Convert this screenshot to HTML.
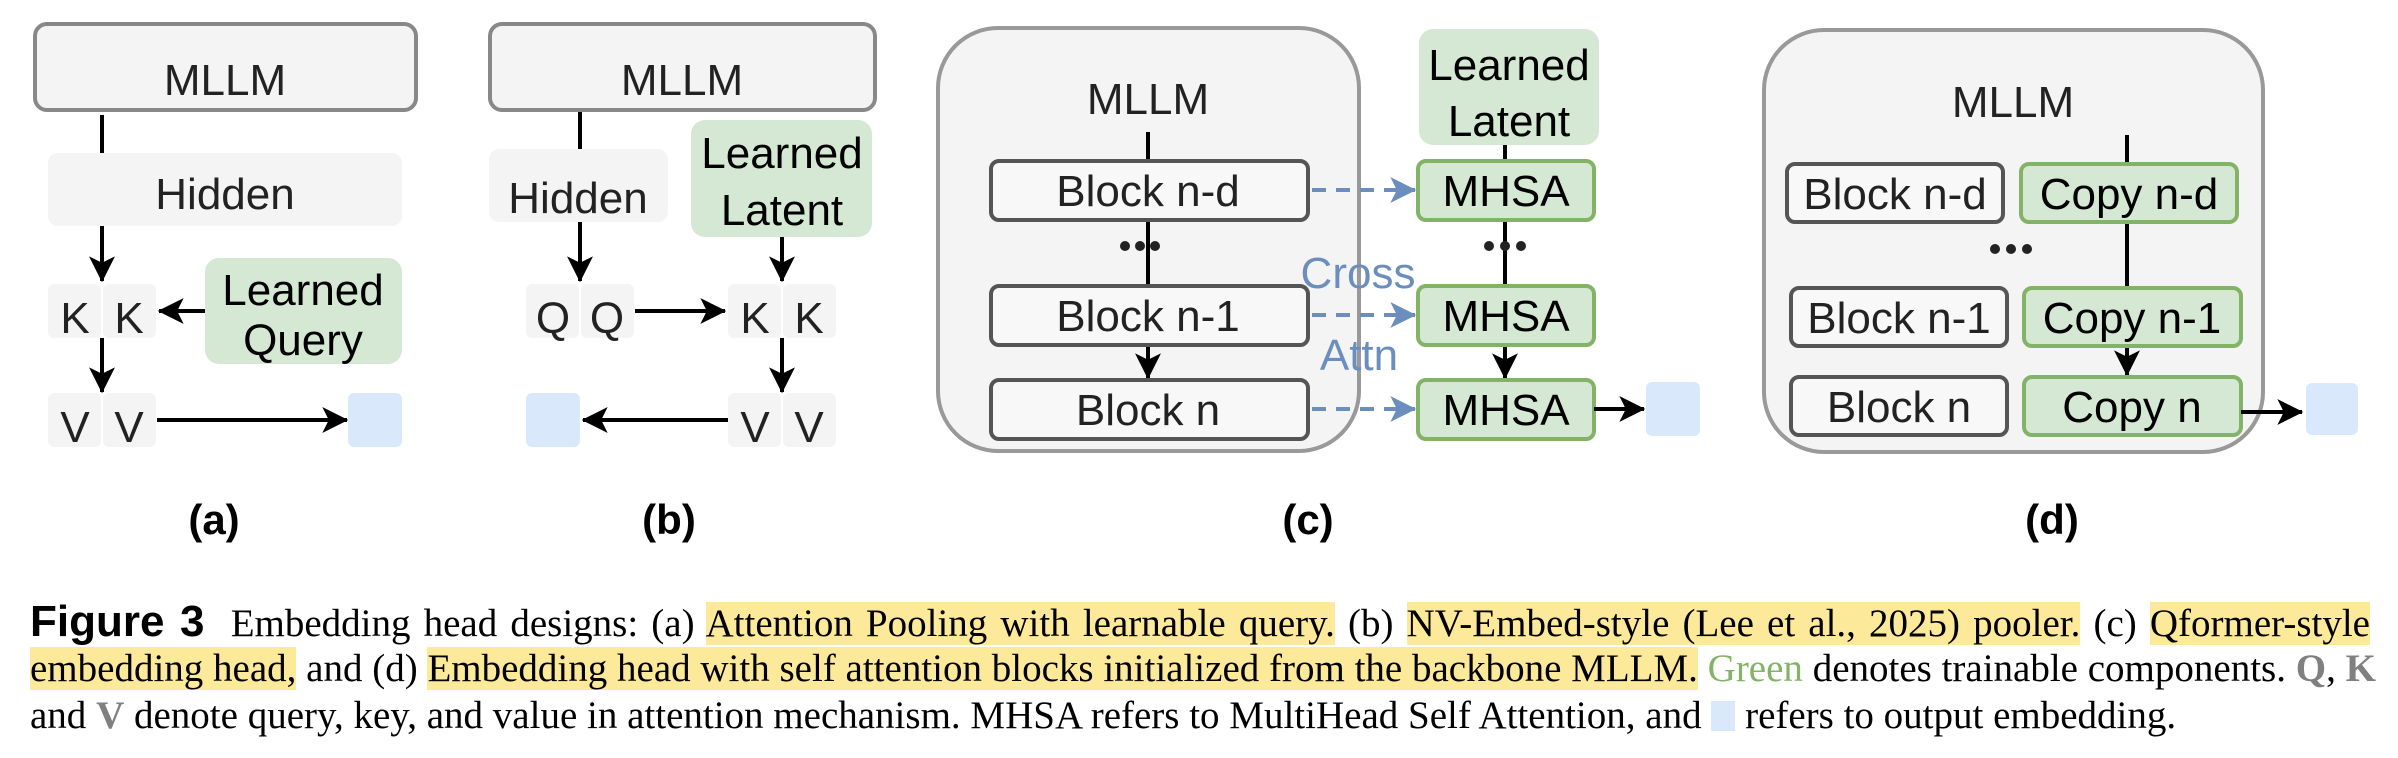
<!DOCTYPE html>
<html><head><meta charset="utf-8"><style>
html,body{margin:0;padding:0;background:#fff;}
body{width:2398px;height:758px;position:relative;overflow:hidden;}
svg{position:absolute;left:0;top:0;}
.cap{position:absolute;left:30px;width:2340px;font-family:"Liberation Serif",serif;font-size:39px;line-height:47px;color:#000;white-space:nowrap;}
.j{text-align:justify;text-align-last:justify;}
.hl{background:#fde99a;}
.g{color:#82b366;}
.gr{color:#808080;font-weight:bold;}
.fig{font-family:"Liberation Sans",sans-serif;font-weight:bold;font-size:44px;}
.sq{display:inline-block;width:24px;height:30px;background:#dae8fc;vertical-align:-3px;}
</style></head><body>
<svg width="2398" height="560" viewBox="0 0 2398 560" xmlns="http://www.w3.org/2000/svg">
<defs>
<marker id="a" viewBox="0 0 20 20" refX="19" refY="10" markerWidth="26" markerHeight="28" markerUnits="userSpaceOnUse" orient="auto"><path d="M0,0 L20,10 L0,20 L5,10 z" fill="#000"/></marker>
<marker id="b" viewBox="0 0 20 20" refX="19" refY="10" markerWidth="26" markerHeight="28" markerUnits="userSpaceOnUse" orient="auto"><path d="M0,0 L20,10 L0,20 L5,10 z" fill="#6c8ebf"/></marker>
</defs>
<g font-family="Liberation Sans, sans-serif" font-size="44" fill="#222" text-anchor="middle">
<!-- (a) -->
<rect x="35" y="24" width="381" height="86" rx="12" fill="#f4f4f4" stroke="#888" stroke-width="4"/>
<text x="225" y="95">MLLM</text>
<line x1="102" y1="115" x2="102" y2="153" stroke="#000" stroke-width="4"/>
<rect x="48" y="153" width="354" height="73" rx="10" fill="#f4f4f4"/>
<text x="225" y="209">Hidden</text>
<line x1="102" y1="226" x2="102" y2="281" stroke="#000" stroke-width="4" marker-end="url(#a)"/>
<rect x="48" y="284" width="53" height="54" rx="6" fill="#f4f4f4"/>
<rect x="103" y="284" width="53" height="54" rx="6" fill="#f4f4f4"/>
<text x="75" y="333">K</text><text x="129" y="333">K</text>
<rect x="205" y="258" width="197" height="106" rx="14" fill="#d5e8d4"/>
<text x="303" y="305" fill="#000">Learned</text><text x="303" y="355" fill="#000">Query</text>
<line x1="205" y1="311" x2="159" y2="311" stroke="#000" stroke-width="4" marker-end="url(#a)"/>
<line x1="102" y1="338" x2="102" y2="392" stroke="#000" stroke-width="4" marker-end="url(#a)"/>
<rect x="48" y="393" width="53" height="54" rx="6" fill="#f4f4f4"/>
<rect x="103" y="393" width="53" height="54" rx="6" fill="#f4f4f4"/>
<text x="75" y="442">V</text><text x="129" y="442">V</text>
<line x1="157" y1="420" x2="347" y2="420" stroke="#000" stroke-width="4" marker-end="url(#a)"/>
<rect x="348" y="393" width="54" height="54" rx="6" fill="#dae8fc"/>
<!-- (b) -->
<rect x="490" y="24" width="385" height="86" rx="12" fill="#f4f4f4" stroke="#888" stroke-width="4"/>
<text x="682" y="95">MLLM</text>
<line x1="580" y1="112" x2="580" y2="149" stroke="#000" stroke-width="4"/>
<rect x="489" y="149" width="179" height="73" rx="10" fill="#f4f4f4"/>
<text x="578" y="213">Hidden</text>
<rect x="691" y="120" width="181" height="117" rx="14" fill="#d5e8d4"/>
<text x="782" y="168" fill="#000">Learned</text><text x="782" y="225" fill="#000">Latent</text>
<line x1="580" y1="222" x2="580" y2="281" stroke="#000" stroke-width="4" marker-end="url(#a)"/>
<rect x="526" y="284" width="53" height="54" rx="6" fill="#f4f4f4"/>
<rect x="581" y="284" width="53" height="54" rx="6" fill="#f4f4f4"/>
<text x="553" y="333">Q</text><text x="607" y="333">Q</text>
<line x1="635" y1="311" x2="725" y2="311" stroke="#000" stroke-width="4" marker-end="url(#a)"/>
<line x1="782" y1="237" x2="782" y2="281" stroke="#000" stroke-width="4" marker-end="url(#a)"/>
<rect x="728" y="284" width="53" height="54" rx="6" fill="#f4f4f4"/>
<rect x="783" y="284" width="53" height="54" rx="6" fill="#f4f4f4"/>
<text x="755" y="333">K</text><text x="809" y="333">K</text>
<line x1="782" y1="338" x2="782" y2="392" stroke="#000" stroke-width="4" marker-end="url(#a)"/>
<rect x="728" y="393" width="53" height="54" rx="6" fill="#f4f4f4"/>
<rect x="783" y="393" width="53" height="54" rx="6" fill="#f4f4f4"/>
<text x="755" y="442">V</text><text x="809" y="442">V</text>
<rect x="526" y="393" width="54" height="54" rx="6" fill="#dae8fc"/>
<line x1="728" y1="420" x2="583" y2="420" stroke="#000" stroke-width="4" marker-end="url(#a)"/>
<!-- (c) -->
<rect x="938" y="28" width="421" height="423" rx="60" fill="#f4f4f4" stroke="#999" stroke-width="4"/>
<text x="1148" y="114">MLLM</text>
<line x1="1148" y1="132" x2="1148" y2="161" stroke="#000" stroke-width="4"/>
<line x1="1148" y1="220" x2="1148" y2="286" stroke="#000" stroke-width="4"/>
<circle cx="1125" cy="246" r="5" fill="#222"/><circle cx="1140" cy="246" r="5" fill="#222"/><circle cx="1155" cy="246" r="5" fill="#222"/>
<line x1="1148" y1="345" x2="1148" y2="378" stroke="#000" stroke-width="4" marker-end="url(#a)"/>
<rect x="991" y="161" width="317" height="59" rx="8" fill="#f8f8f8" stroke="#555" stroke-width="4"/>
<rect x="991" y="286" width="317" height="59" rx="8" fill="#f8f8f8" stroke="#555" stroke-width="4"/>
<rect x="991" y="380" width="317" height="59" rx="8" fill="#f8f8f8" stroke="#555" stroke-width="4"/>
<text x="1148" y="206">Block n-d</text>
<text x="1148" y="331">Block n-1</text>
<text x="1148" y="425">Block n</text>
<rect x="1419" y="29" width="180" height="116" rx="14" fill="#d5e8d4"/>
<text x="1509" y="80" fill="#000">Learned</text><text x="1509" y="136" fill="#000">Latent</text>
<line x1="1505" y1="145" x2="1505" y2="161" stroke="#000" stroke-width="4"/>
<line x1="1505" y1="220" x2="1505" y2="286" stroke="#000" stroke-width="4"/>
<circle cx="1489" cy="246" r="5" fill="#222"/><circle cx="1505" cy="246" r="5" fill="#222"/><circle cx="1521" cy="246" r="5" fill="#222"/>
<line x1="1505" y1="345" x2="1505" y2="378" stroke="#000" stroke-width="4" marker-end="url(#a)"/>
<rect x="1418" y="161" width="176" height="59" rx="8" fill="#d5e8d4" stroke="#82b366" stroke-width="4"/>
<rect x="1418" y="286" width="176" height="59" rx="8" fill="#d5e8d4" stroke="#82b366" stroke-width="4"/>
<rect x="1418" y="380" width="176" height="59" rx="8" fill="#d5e8d4" stroke="#82b366" stroke-width="4"/>
<text x="1506" y="206" fill="#000">MHSA</text>
<text x="1506" y="331" fill="#000">MHSA</text>
<text x="1506" y="425" fill="#000">MHSA</text>
<g stroke="#6c8ebf" stroke-width="4" stroke-dasharray="14 10">
<line x1="1312" y1="190" x2="1415" y2="190" marker-end="url(#b)"/>
<line x1="1312" y1="315" x2="1415" y2="315" marker-end="url(#b)"/>
<line x1="1312" y1="409" x2="1415" y2="409" marker-end="url(#b)"/>
</g>
<text x="1358" y="288" fill="#6c8ebf">Cross</text>
<text x="1359" y="370" fill="#6c8ebf">Attn</text>
<line x1="1594" y1="409" x2="1644" y2="409" stroke="#000" stroke-width="4" marker-end="url(#a)"/>
<rect x="1646" y="382" width="54" height="54" rx="6" fill="#dae8fc"/>
<!-- (d) -->
<rect x="1764" y="30" width="499" height="422" rx="60" fill="#f4f4f4" stroke="#999" stroke-width="4"/>
<text x="2013" y="117">MLLM</text>
<line x1="2127" y1="135" x2="2127" y2="164" stroke="#000" stroke-width="4"/>
<line x1="2127" y1="222" x2="2127" y2="288" stroke="#000" stroke-width="4"/>
<line x1="2127" y1="346" x2="2127" y2="375" stroke="#000" stroke-width="4" marker-end="url(#a)"/>
<circle cx="1995" cy="249" r="5" fill="#222"/><circle cx="2011" cy="249" r="5" fill="#222"/><circle cx="2027" cy="249" r="5" fill="#222"/>
<rect x="1787" y="164" width="216" height="58" rx="8" fill="#f8f8f8" stroke="#555" stroke-width="4"/>
<rect x="1791" y="288" width="216" height="58" rx="8" fill="#f8f8f8" stroke="#555" stroke-width="4"/>
<rect x="1791" y="377" width="216" height="58" rx="8" fill="#f8f8f8" stroke="#555" stroke-width="4"/>
<rect x="2021" y="164" width="216" height="58" rx="8" fill="#d5e8d4" stroke="#82b366" stroke-width="4"/>
<rect x="2024" y="288" width="217" height="58" rx="8" fill="#d5e8d4" stroke="#82b366" stroke-width="4"/>
<rect x="2024" y="377" width="217" height="58" rx="8" fill="#d5e8d4" stroke="#82b366" stroke-width="4"/>
<text x="1895" y="209">Block n-d</text>
<text x="1899" y="333">Block n-1</text>
<text x="1899" y="422">Block n</text>
<text x="2129" y="209" fill="#000">Copy n-d</text>
<text x="2132" y="333" fill="#000">Copy n-1</text>
<text x="2132" y="422" fill="#000">Copy n</text>
<line x1="2241" y1="412" x2="2302" y2="412" stroke="#000" stroke-width="4" marker-end="url(#a)"/>
<rect x="2306" y="383" width="52" height="52" rx="6" fill="#dae8fc"/>
</g>
<g font-family="Liberation Sans, sans-serif" font-size="42" font-weight="bold" fill="#000" text-anchor="middle">
<text x="214" y="534">(a)</text>
<text x="669" y="534">(b)</text>
<text x="1308" y="534">(c)</text>
<text x="2052" y="534">(d)</text>
</g>
</svg>
<div class="cap j" style="top:598px;"><span class="fig">Figure 3</span>&nbsp; Embedding head designs: (a) <span class="hl">Attention Pooling with learnable query.</span> (b) <span class="hl">NV-Embed-style (Lee et al., 2025) pooler.</span> (c) <span class="hl">Qformer-style</span></div>
<div class="cap j" style="top:645px;"><span class="hl">embedding head,</span> and (d) <span class="hl">Embedding head with self attention blocks initialized from the backbone MLLM.</span> <span class="g">Green</span> denotes trainable components. <span class="gr">Q</span>, <span class="gr">K</span></div>
<div class="cap" style="top:692px;">and <span class="gr">V</span> denote query, key, and value in attention mechanism. MHSA refers to MultiHead Self Attention, and <span class="sq"></span> refers to output embedding.</div>
</body></html>
